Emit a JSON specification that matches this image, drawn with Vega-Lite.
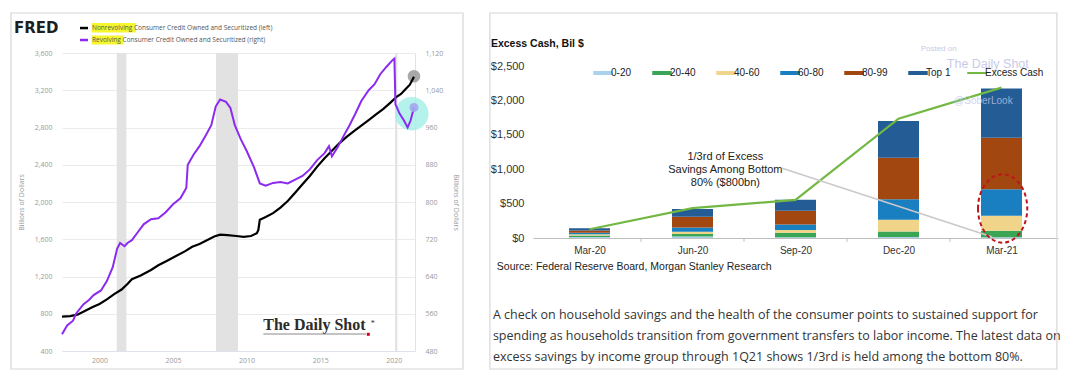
{
  "$schema": "https://vega.github.io/schema/vega-lite/v6.json",
  "background": "white",
  "padding": {"left": 10, "top": 12, "right": 0, "bottom": 0},
  "spacing": 25,
  "config": {"view": {"stroke": null}, "font": "Liberation Sans"},
  "datasets": {
    "one": [{}],
    "nonrev": [
      {"t": 1997.45, "v": 770}, {"t": 1998.0, "v": 775}, {"t": 1998.5, "v": 790}, {"t": 1999.0, "v": 830},
      {"t": 1999.5, "v": 870}, {"t": 2000.0, "v": 905}, {"t": 2000.5, "v": 955}, {"t": 2001.0, "v": 1010},
      {"t": 2001.5, "v": 1060}, {"t": 2001.9, "v": 1120}, {"t": 2002.2, "v": 1170}, {"t": 2002.8, "v": 1210},
      {"t": 2003.5, "v": 1270}, {"t": 2004.0, "v": 1320}, {"t": 2004.6, "v": 1370}, {"t": 2005.2, "v": 1420},
      {"t": 2005.8, "v": 1470}, {"t": 2006.3, "v": 1520}, {"t": 2006.8, "v": 1550}, {"t": 2007.3, "v": 1590},
      {"t": 2007.8, "v": 1630}, {"t": 2008.2, "v": 1650}, {"t": 2008.7, "v": 1645}, {"t": 2009.3, "v": 1635},
      {"t": 2009.8, "v": 1625}, {"t": 2010.3, "v": 1635}, {"t": 2010.7, "v": 1665}, {"t": 2010.8, "v": 1700},
      {"t": 2010.9, "v": 1810}, {"t": 2011.3, "v": 1840}, {"t": 2011.8, "v": 1880}, {"t": 2012.3, "v": 1940},
      {"t": 2012.8, "v": 2010}, {"t": 2013.3, "v": 2100}, {"t": 2013.8, "v": 2190}, {"t": 2014.3, "v": 2280},
      {"t": 2014.8, "v": 2380}, {"t": 2015.3, "v": 2470}, {"t": 2015.8, "v": 2550}, {"t": 2016.3, "v": 2630},
      {"t": 2016.8, "v": 2700}, {"t": 2017.3, "v": 2760}, {"t": 2017.8, "v": 2820}, {"t": 2018.3, "v": 2880},
      {"t": 2018.8, "v": 2940}, {"t": 2019.3, "v": 3000}, {"t": 2019.8, "v": 3070}, {"t": 2020.2, "v": 3130},
      {"t": 2020.5, "v": 3160}, {"t": 2020.8, "v": 3210}, {"t": 2021.1, "v": 3260}, {"t": 2021.38, "v": 3345}
    ],
    "rev": [
      {"t": 1997.45, "v": 516}, {"t": 1997.8, "v": 535}, {"t": 1998.2, "v": 545}, {"t": 1998.4, "v": 560},
      {"t": 1998.9, "v": 580}, {"t": 1999.3, "v": 590}, {"t": 1999.6, "v": 600}, {"t": 2000.1, "v": 610},
      {"t": 2000.5, "v": 630}, {"t": 2000.9, "v": 660}, {"t": 2001.2, "v": 700}, {"t": 2001.4, "v": 712},
      {"t": 2001.7, "v": 705}, {"t": 2001.9, "v": 712}, {"t": 2002.2, "v": 718}, {"t": 2002.6, "v": 735},
      {"t": 2003.0, "v": 752}, {"t": 2003.5, "v": 763}, {"t": 2004.0, "v": 765}, {"t": 2004.5, "v": 778},
      {"t": 2005.0, "v": 795}, {"t": 2005.5, "v": 808}, {"t": 2005.9, "v": 830}, {"t": 2006.0, "v": 880},
      {"t": 2006.4, "v": 902}, {"t": 2006.8, "v": 920}, {"t": 2007.2, "v": 942}, {"t": 2007.6, "v": 965},
      {"t": 2007.9, "v": 1005}, {"t": 2008.2, "v": 1020}, {"t": 2008.6, "v": 1015}, {"t": 2008.9, "v": 1002},
      {"t": 2009.2, "v": 965}, {"t": 2009.6, "v": 935}, {"t": 2010.0, "v": 910}, {"t": 2010.5, "v": 875},
      {"t": 2010.9, "v": 840}, {"t": 2011.3, "v": 835}, {"t": 2011.8, "v": 841}, {"t": 2012.3, "v": 843},
      {"t": 2012.8, "v": 840}, {"t": 2013.3, "v": 848}, {"t": 2013.8, "v": 856}, {"t": 2014.3, "v": 870},
      {"t": 2014.8, "v": 890}, {"t": 2015.3, "v": 905}, {"t": 2015.6, "v": 920}, {"t": 2015.8, "v": 898},
      {"t": 2016.2, "v": 918}, {"t": 2016.6, "v": 942}, {"t": 2017.0, "v": 965}, {"t": 2017.4, "v": 990},
      {"t": 2017.8, "v": 1017}, {"t": 2018.3, "v": 1040}, {"t": 2018.7, "v": 1053}, {"t": 2019.1, "v": 1075},
      {"t": 2019.5, "v": 1090}, {"t": 2019.9, "v": 1104}, {"t": 2020.05, "v": 1108}, {"t": 2020.12, "v": 1010},
      {"t": 2020.4, "v": 990}, {"t": 2020.7, "v": 975}, {"t": 2020.95, "v": 960}, {"t": 2021.15, "v": 975},
      {"t": 2021.38, "v": 1003}
    ],
    "recess": [
      {"start": 2001.17, "end": 2001.83}, {"start": 2007.92, "end": 2009.42}, {"start": 2020.1, "end": 2020.25}
    ],
    "bars": [
      {"q": 0, "group": "0-20", "k": 1, "v": 15}, {"q": 0, "group": "20-40", "k": 2, "v": 20},
      {"q": 0, "group": "40-60", "k": 3, "v": 20}, {"q": 0, "group": "60-80", "k": 4, "v": 20},
      {"q": 0, "group": "80-99", "k": 5, "v": 35}, {"q": 0, "group": "Top 1", "k": 6, "v": 30},
      {"q": 1, "group": "0-20", "k": 1, "v": 20}, {"q": 1, "group": "20-40", "k": 2, "v": 38},
      {"q": 1, "group": "40-60", "k": 3, "v": 33}, {"q": 1, "group": "60-80", "k": 4, "v": 63},
      {"q": 1, "group": "80-99", "k": 5, "v": 155}, {"q": 1, "group": "Top 1", "k": 6, "v": 111},
      {"q": 2, "group": "0-20", "k": 1, "v": 10}, {"q": 2, "group": "20-40", "k": 2, "v": 65},
      {"q": 2, "group": "40-60", "k": 3, "v": 40}, {"q": 2, "group": "60-80", "k": 4, "v": 80},
      {"q": 2, "group": "80-99", "k": 5, "v": 200}, {"q": 2, "group": "Top 1", "k": 6, "v": 160},
      {"q": 3, "group": "0-20", "k": 1, "v": 15}, {"q": 3, "group": "20-40", "k": 2, "v": 80},
      {"q": 3, "group": "40-60", "k": 3, "v": 170}, {"q": 3, "group": "60-80", "k": 4, "v": 300},
      {"q": 3, "group": "80-99", "k": 5, "v": 603}, {"q": 3, "group": "Top 1", "k": 6, "v": 532},
      {"q": 4, "group": "0-20", "k": 1, "v": 10}, {"q": 4, "group": "20-40", "k": 2, "v": 96},
      {"q": 4, "group": "40-60", "k": 3, "v": 217}, {"q": 4, "group": "60-80", "k": 4, "v": 387},
      {"q": 4, "group": "80-99", "k": 5, "v": 748}, {"q": 4, "group": "Top 1", "k": 6, "v": 716}
    ],
    "excess": [
      {"q": 0, "v": 127}, {"q": 1, "v": 434}, {"q": 2, "v": 555}, {"q": 3, "v": 1735}, {"q": 4, "v": 2185}
    ],
    "bounds": [{"b": 0.5}, {"b": 1.5}, {"b": 2.5}, {"b": 3.5}]
  },
  "hconcat": [
    {
      "width": 353,
      "height": 298,
      "layer": [
        {
          "layer": [
            {
              "data": {"name": "recess"},
              "mark": {"type": "rect", "color": "#e2e2e2"},
              "encoding": {
                "x": {"field": "start", "type": "quantitative", "scale": {"domain": [1997.45, 2021.45], "nice": false, "zero": false}},
                "x2": {"field": "end"}
              }
            },
            {
              "data": {"name": "one"},
              "mark": {"type": "point", "shape": "circle", "filled": true, "size": 1134, "color": "#a2efe7", "opacity": 0.8},
              "encoding": {
                "x": {"datum": 2021.227, "type": "quantitative", "scale": {"domain": [1997.45, 2021.45], "nice": false, "zero": false}},
                "y": {"datum": 2948, "type": "quantitative", "scale": {"domain": [400, 3600], "nice": false, "zero": false}}
              }
            },
            {
              "data": {"name": "one"},
              "mark": {"type": "point", "shape": "circle", "filled": true, "size": 160, "color": "#9a9a9a", "opacity": 0.85},
              "encoding": {
                "x": {"datum": 2021.38, "type": "quantitative", "scale": {"domain": [1997.45, 2021.45], "nice": false, "zero": false}},
                "y": {"datum": 3350, "type": "quantitative", "scale": {"domain": [400, 3600], "nice": false, "zero": false}}
              }
            },
            {
              "data": {"name": "nonrev"},
              "mark": {"type": "line", "color": "#000000", "strokeWidth": 2.2},
              "encoding": {
                "x": {"field": "t", "type": "quantitative", "scale": {"domain": [1997.45, 2021.45], "nice": false, "zero": false},
                  "axis": {"title": null, "values": [2000, 2005, 2010, 2015, 2020], "tickCount": 30, "format": "d", "grid": false, "ticks": false, "labelOverlap": false,
                    "domainColor": "#dde1f0", "labelFont": "Open Sans", "labelFontSize": 7, "labelColor": "#999999", "labelPadding": 5}},
                "y": {"field": "v", "type": "quantitative", "scale": {"domain": [400, 3600], "nice": false, "zero": false},
                  "axis": {"title": "Billions of Dollars", "values": [400, 800, 1200, 1600, 2000, 2400, 2800, 3200, 3600], "tickCount": 30, "format": ",.0f",
                    "grid": true, "gridColor": "#ebebeb", "ticks": false, "domain": false, "labelOverlap": false,
                    "labelFont": "Open Sans", "labelFontSize": 7, "labelColor": "#999999", "labelPadding": 10,
                    "titleFont": "Open Sans", "titleFontSize": 7, "titleFontWeight": "normal", "titleColor": "#999999", "titlePadding": 10}}
              }
            },
            {
              "data": {"name": "one"},
              "mark": {"type": "rect", "fill": "white", "fillOpacity": 0, "stroke": "#d6d6d6", "strokeWidth": 1.2},
              "encoding": {
                "x": {"datum": 1993.983, "type": "quantitative", "scale": {"domain": [1997.45, 2021.45], "nice": false, "zero": false}},
                "x2": {"datum": 2024.714},
                "y": {"datum": 4029.4, "type": "quantitative", "scale": {"domain": [400, 3600], "nice": false, "zero": false}},
                "y2": {"datum": 206.7}
              }
            },
            {
              "data": {"name": "one"},
              "mark": {"type": "text", "text": "FRED", "font": "DejaVu Sans", "fontWeight": "bold", "fontSize": 15, "align": "left", "baseline": "alphabetic", "color": "#1e1e1e"},
              "encoding": {
                "x": {"datum": 1994.186, "type": "quantitative", "scale": {"domain": [1997.45, 2021.45], "nice": false, "zero": false}},
                "y": {"datum": 3814.7, "type": "quantitative", "scale": {"domain": [400, 3600], "nice": false, "zero": false}}
              }
            },
            {
              "data": {"name": "one"},
              "mark": {"type": "rect", "color": "#f6f62e"},
              "encoding": {
                "x": {"datum": 1999.469, "type": "quantitative", "scale": {"domain": [1997.45, 2021.45], "nice": false, "zero": false}},
                "x2": {"datum": 2002.481},
                "y": {"datum": 3922, "type": "quantitative", "scale": {"domain": [400, 3600], "nice": false, "zero": false}},
                "y2": {"datum": 3820}
              }
            },
            {
              "data": {"name": "one"},
              "mark": {"type": "rect", "color": "#f6f62e"},
              "encoding": {
                "x": {"datum": 1999.469, "type": "quantitative", "scale": {"domain": [1997.45, 2021.45], "nice": false, "zero": false}},
                "x2": {"datum": 2001.63},
                "y": {"datum": 3788, "type": "quantitative", "scale": {"domain": [400, 3600], "nice": false, "zero": false}},
                "y2": {"datum": 3691}
              }
            },
            {
              "data": {"name": "one"},
              "mark": {"type": "rule", "color": "#000000", "strokeWidth": 2.5},
              "encoding": {
                "x": {"datum": 1998.674, "type": "quantitative", "scale": {"domain": [1997.45, 2021.45], "nice": false, "zero": false}},
                "x2": {"datum": 1999.218},
                "y": {"datum": 3868, "type": "quantitative", "scale": {"domain": [400, 3600], "nice": false, "zero": false}}
              }
            },
            {
              "data": {"name": "one"},
              "mark": {"type": "rule", "color": "#8c2bef", "strokeWidth": 2.5},
              "encoding": {
                "x": {"datum": 1998.674, "type": "quantitative", "scale": {"domain": [1997.45, 2021.45], "nice": false, "zero": false}},
                "x2": {"datum": 1999.218},
                "y": {"datum": 3739.5, "type": "quantitative", "scale": {"domain": [400, 3600], "nice": false, "zero": false}}
              }
            },
            {
              "data": {"name": "one"},
              "mark": {"type": "text", "text": "Nonrevolving Consumer Credit Owned and Securitized (left)", "font": "Open Sans", "fontSize": 6.5, "align": "left", "baseline": "middle", "color": "#555555"},
              "encoding": {
                "x": {"datum": 1999.49, "type": "quantitative", "scale": {"domain": [1997.45, 2021.45], "nice": false, "zero": false}},
                "y": {"datum": 3868, "type": "quantitative", "scale": {"domain": [400, 3600], "nice": false, "zero": false}}
              }
            },
            {
              "data": {"name": "one"},
              "mark": {"type": "text", "text": "Revolving Consumer Credit Owned and Securitized (right)", "font": "Open Sans", "fontSize": 6.5, "align": "left", "baseline": "middle", "color": "#555555"},
              "encoding": {
                "x": {"datum": 1999.49, "type": "quantitative", "scale": {"domain": [1997.45, 2021.45], "nice": false, "zero": false}},
                "y": {"datum": 3739.5, "type": "quantitative", "scale": {"domain": [400, 3600], "nice": false, "zero": false}}
              }
            },
            {
              "data": {"name": "one"},
              "mark": {"type": "text", "text": "The Daily Shot", "font": "Liberation Serif", "fontWeight": "bold", "fontSize": 16, "align": "left", "baseline": "alphabetic", "color": "#2b2b2b"},
              "encoding": {
                "x": {"datum": 2011.136, "type": "quantitative", "scale": {"domain": [1997.45, 2021.45], "nice": false, "zero": false}},
                "y": {"datum": 622.3, "type": "quantitative", "scale": {"domain": [400, 3600], "nice": false, "zero": false}}
              }
            },
            {
              "data": {"name": "one"},
              "mark": {"type": "rule", "color": "#8a8a8a", "strokeWidth": 1.2},
              "encoding": {
                "x": {"datum": 2011.136, "type": "quantitative", "scale": {"domain": [1997.45, 2021.45], "nice": false, "zero": false}},
                "x2": {"datum": 2018.12},
                "y": {"datum": 582.5, "type": "quantitative", "scale": {"domain": [400, 3600], "nice": false, "zero": false}}
              }
            },
            {
              "data": {"name": "one"},
              "mark": {"type": "point", "shape": "square", "filled": true, "size": 9, "color": "#d0021b", "opacity": 1},
              "encoding": {
                "x": {"datum": 2018.276, "type": "quantitative", "scale": {"domain": [1997.45, 2021.45], "nice": false, "zero": false}},
                "y": {"datum": 579.3, "type": "quantitative", "scale": {"domain": [400, 3600], "nice": false, "zero": false}}
              }
            },
            {
              "data": {"name": "one"},
              "mark": {"type": "text", "text": "*", "font": "Liberation Serif", "fontSize": 8, "align": "left", "baseline": "middle", "color": "#2b2b2b"},
              "encoding": {
                "x": {"datum": 2018.44, "type": "quantitative", "scale": {"domain": [1997.45, 2021.45], "nice": false, "zero": false}},
                "y": {"datum": 686.7, "type": "quantitative", "scale": {"domain": [400, 3600], "nice": false, "zero": false}}
              }
            }
          ]
        },
        {
          "layer": [
            {
              "data": {"name": "rev"},
              "mark": {"type": "line", "color": "#8c2bef", "strokeWidth": 2},
              "encoding": {
                "x": {"field": "t", "type": "quantitative", "scale": {"domain": [1997.45, 2021.45], "nice": false, "zero": false}},
                "y": {"field": "v", "type": "quantitative", "scale": {"domain": [480, 1120], "nice": false, "zero": false},
                  "axis": {"orient": "right", "title": "Billions of Dollars", "values": [480, 560, 640, 720, 800, 880, 960, 1040, 1120], "tickCount": 30, "format": ",.0f",
                    "grid": false, "ticks": false, "domain": true, "domainColor": "#e0e3ef", "labelOverlap": false,
                    "labelFont": "Open Sans", "labelFontSize": 7, "labelColor": "#999999", "labelPadding": 10,
                    "titleFont": "Open Sans", "titleFontSize": 7, "titleFontWeight": "normal", "titleColor": "#999999", "titlePadding": 10}}
              }
            },
            {
              "data": {"name": "one"},
              "mark": {"type": "point", "shape": "circle", "filled": true, "size": 80, "color": "#a3a6ee", "opacity": 0.9},
              "encoding": {
                "x": {"datum": 2021.38, "type": "quantitative", "scale": {"domain": [1997.45, 2021.45], "nice": false, "zero": false}},
                "y": {"datum": 1003, "type": "quantitative", "scale": {"domain": [480, 1120], "nice": false, "zero": false}}
              }
            }
          ]
        }
      ],
      "resolve": {"scale": {"y": "independent"}}
    },
    {
      "width": 525,
      "height": 185,
      "layer": [
        {
          "data": {"name": "bounds"},
          "mark": {"type": "rule", "color": "#bfbfbf", "strokeWidth": 1},
          "encoding": {
            "x": {"field": "b", "type": "quantitative", "scale": {"domain": [-0.5, 4.5], "nice": false, "zero": false}},
            "y": {"datum": 0, "type": "quantitative", "scale": {"domain": [0, 2689], "nice": false, "zero": false}},
            "y2": {"datum": -55}
          }
        },
        {
          "data": {"name": "bars"},
          "mark": {"type": "bar", "size": 41},
          "encoding": {
            "x": {"field": "q", "type": "quantitative", "scale": {"domain": [-0.5, 4.5], "nice": false, "zero": false},
              "axis": {"title": null, "values": [0, 1, 2, 3, 4], "tickCount": 30, "labelExpr": "['Mar-20','Jun-20','Sep-20','Dec-20','Mar-21'][datum.value]",
                "ticks": false, "grid": false, "domainColor": "#bfbfbf", "labelOverlap": false, "labelFont": "Liberation Sans", "labelFontSize": 10, "labelColor": "#333333", "labelPadding": 7}},
            "y": {"field": "v", "type": "quantitative", "stack": "zero", "scale": {"domain": [0, 2689], "nice": false, "zero": false},
              "axis": {"title": null, "values": [0, 500, 1000, 1500, 2000, 2500], "tickCount": 30, "format": "$,.0f", "grid": false, "ticks": false, "domain": false, "labelOverlap": false,
                "labelFont": "Liberation Sans", "labelFontSize": 11, "labelColor": "#333333", "labelPadding": 9}},
            "order": {"field": "k", "type": "quantitative"},
            "color": {"field": "group", "type": "nominal",
              "scale": {"domain": ["0-20", "20-40", "40-60", "60-80", "80-99", "Top 1", "Excess Cash"],
                "range": ["#a9d3ec", "#3aa655", "#efd489", "#1a7fc1", "#a2470f", "#245d96", "#72b843"]},
              "legend": {"orient": "none", "legendX": 536, "legendY": 15, "direction": "horizontal", "columns": 7, "gridAlign": "none", "title": null,
                "symbolType": "stroke", "symbolSize": 380, "symbolStrokeWidth": 4, "labelFont": "Liberation Sans", "labelFontSize": 10,
                "labelColor": "#222222", "columnPadding": 12, "labelOffset": 3,
                "encode": {"symbols": {"update": {"strokeWidth": {"signal": "datum.value === 'Excess Cash' ? 2 : 4"}}}}}}
          }
        },
        {
          "data": {"name": "excess"},
          "mark": {"type": "line", "strokeWidth": 2.2},
          "encoding": {
            "x": {"field": "q", "type": "quantitative", "scale": {"domain": [-0.5, 4.5], "nice": false, "zero": false}},
            "y": {"field": "v", "type": "quantitative", "scale": {"domain": [0, 2689], "nice": false, "zero": false}},
            "color": {"datum": "Excess Cash"}
          }
        },
        {
          "data": {"name": "one"},
          "mark": {"type": "text", "text": "Posted on", "font": "Liberation Sans", "fontSize": 8, "align": "center", "baseline": "middle", "color": "#c3c6e6", "opacity": 0.9},
          "encoding": {
            "x": {"datum": 3.39, "type": "quantitative", "scale": {"domain": [-0.5, 4.5], "nice": false, "zero": false}},
            "y": {"datum": 2747, "type": "quantitative", "scale": {"domain": [0, 2689], "nice": false, "zero": false}}
          }
        },
        {
          "data": {"name": "one"},
          "mark": {"type": "text", "text": "The Daily Shot", "font": "Liberation Sans", "fontSize": 12.5, "align": "center", "baseline": "middle", "color": "#c3c6e6", "opacity": 0.9},
          "encoding": {
            "x": {"datum": 3.867, "type": "quantitative", "scale": {"domain": [-0.5, 4.5], "nice": false, "zero": false}},
            "y": {"datum": 2529, "type": "quantitative", "scale": {"domain": [0, 2689], "nice": false, "zero": false}}
          }
        },
        {
          "data": {"name": "one"},
          "mark": {"type": "text", "text": "@SoberLook", "font": "Liberation Sans", "fontSize": 10, "align": "center", "baseline": "middle", "color": "#c3c6e6", "opacity": 0.75},
          "encoding": {
            "x": {"datum": 3.824, "type": "quantitative", "scale": {"domain": [-0.5, 4.5], "nice": false, "zero": false}},
            "y": {"datum": 1991, "type": "quantitative", "scale": {"domain": [0, 2689], "nice": false, "zero": false}}
          }
        },
        {
          "data": {"name": "one"},
          "mark": {"type": "rule", "color": "#c9c9c9", "strokeWidth": 1.5},
          "encoding": {
            "x": {"datum": 1.871, "type": "quantitative", "scale": {"domain": [-0.5, 4.5], "nice": false, "zero": false}},
            "x2": {"datum": 3.91},
            "y": {"datum": 1013, "type": "quantitative", "scale": {"domain": [0, 2689], "nice": false, "zero": false}},
            "y2": {"datum": 14.5}
          }
        },
        {
          "data": {"name": "one"},
          "mark": {"type": "point", "shape": "M -0.72 0 A 0.72 1 0 1 0 0.72 0 A 0.72 1 0 1 0 -0.72 0 Z", "filled": false, "size": 4679, "stroke": "#c0141c", "strokeWidth": 2, "strokeDash": [4, 3], "opacity": 1},
          "encoding": {
            "x": {"datum": 4.011, "type": "quantitative", "scale": {"domain": [-0.5, 4.5], "nice": false, "zero": false}},
            "y": {"datum": 428.8, "type": "quantitative", "scale": {"domain": [0, 2689], "nice": false, "zero": false}}
          }
        },
        {
          "data": {"name": "one"},
          "mark": {"type": "text", "text": ["1/3rd of Excess", "Savings Among Bottom", "80% ($800bn)"], "font": "Liberation Sans", "fontSize": 11, "letterSpacing": 0.6, "lineHeight": 12.8, "align": "center", "baseline": "top", "color": "#222222"},
          "encoding": {
            "x": {"datum": 1.319, "type": "quantitative", "scale": {"domain": [-0.5, 4.5], "nice": false, "zero": false}},
            "y": {"datum": 1264.6, "type": "quantitative", "scale": {"domain": [0, 2689], "nice": false, "zero": false}}
          }
        },
        {
          "data": {"name": "one"},
          "mark": {"type": "text", "text": "Excess Cash, Bil $", "font": "Liberation Sans", "fontWeight": "bold", "fontSize": 10.5, "align": "left", "baseline": "middle", "color": "#111111"},
          "encoding": {
            "x": {"datum": -0.957, "type": "quantitative", "scale": {"domain": [-0.5, 4.5], "nice": false, "zero": false}},
            "y": {"datum": 2815.5, "type": "quantitative", "scale": {"domain": [0, 2689], "nice": false, "zero": false}}
          }
        },
        {
          "data": {"name": "one"},
          "mark": {"type": "text", "text": "Source: Federal Reserve Board, Morgan Stanley Research", "font": "Liberation Sans", "fontSize": 10.5, "align": "left", "baseline": "middle", "color": "#222222"},
          "encoding": {
            "x": {"datum": -0.9, "type": "quantitative", "scale": {"domain": [-0.5, 4.5], "nice": false, "zero": false}},
            "y": {"datum": -421.5, "type": "quantitative", "scale": {"domain": [0, 2689], "nice": false, "zero": false}}
          }
        },
        {
          "data": {"name": "one"},
          "mark": {"type": "text", "text": ["A check on household savings and the health of the consumer points to sustained support for", "spending as households transition from government transfers to labor income. The latest data on", "excess savings by income group through 1Q21 shows 1/3rd is held among the bottom 80%."], "font": "Open Sans", "fontSize": 12.5, "lineHeight": 21, "align": "left", "baseline": "top", "color": "#333333"},
          "encoding": {
            "x": {"datum": -0.938, "type": "quantitative", "scale": {"domain": [-0.5, 4.5], "nice": false, "zero": false}},
            "y": {"datum": -1032, "type": "quantitative", "scale": {"domain": [0, 2689], "nice": false, "zero": false}}
          }
        },
        {
          "data": {"name": "one"},
          "mark": {"type": "rect", "fill": "white", "fillOpacity": 0, "stroke": "#d6d6d6", "strokeWidth": 1.2},
          "encoding": {
            "x": {"datum": -0.967, "type": "quantitative", "scale": {"domain": [-0.5, 4.5], "nice": false, "zero": false}},
            "x2": {"datum": 4.538},
            "y": {"datum": 3270.4, "type": "quantitative", "scale": {"domain": [0, 2689], "nice": false, "zero": false}},
            "y2": {"datum": -1904}
          }
        }
      ]
    }
  ]
}
